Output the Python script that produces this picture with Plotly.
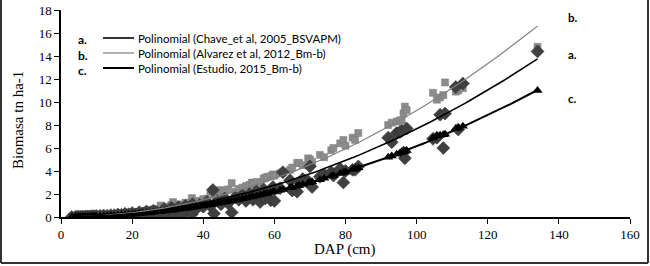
import numpy as np
import plotly.graph_objects as go

# DAP (cm) of each tree
dap = [3.0, 4.0, 4.5, 5.0, 5.5, 6.0, 6.5, 7.0, 7.5, 8.0, 8.5, 9.0, 9.5, 10, 11, 12, 13, 14, 15, 16, 17,
       18, 19, 20, 21, 22, 23, 24, 25, 26, 27, 28, 29, 30, 31, 31.5, 32, 33, 34, 35, 36,
       36.8, 37, 38, 39, 40, 41, 42, 42.7, 43, 44, 45, 46, 47, 48, 49, 50, 51, 52, 53, 53.7,
       54, 55, 56, 57, 57.4, 58, 59, 59.6, 60, 61.6, 62.4, 64.4, 65, 66.4, 67, 68, 69.5, 70, 70.6, 72.8,
       74, 76, 76.6, 78.5, 79.4, 80, 82, 82.7, 83.6, 92, 93, 94.4, 95.3, 95.8, 96.3, 96.7, 97.2,
       104.6, 105.7, 106.6, 107.5, 108, 111, 111.7, 113, 134]

# a. Chave et al 2005 (diamonds)
bio_chave = [0.01, 0.01, 0.02, 0.02, 0.03, 0.03, 0.03, 0.04, 0.05, 0.05, 0.06, 0.07, 0.07, 0.08, 0.10, 0.12, 0.11, 0.16, 0.15, 0.22, 0.19,
             0.28, 0.24, 0.34, 0.22, 0.41, 0.30, 0.48, 0.33, 0.55, 0.40, 0.15, 0.70, 0.10, 0.80, 0.62, 0.20, 0.85, 0.15, 0.95, 0.60,
             0.25, 1.10, 0.70, 1.05, 0.90, 1.30, 0.95, 2.35, 0.30, 1.40, 1.10, 1.60, 1.20, 0.40, 1.70, 1.50, 1.90, 1.40, 2.00, 1.75,
             1.50, 2.25, 1.30, 2.40, 1.60, 2.10, 1.45, 2.60, 1.40, 2.50, 3.90, 3.20, 2.30, 2.20, 3.00, 3.30, 3.10, 4.40, 2.60, 3.50,
             3.70, 3.90, 3.60, 4.20, 3.00, 4.00, 4.10, 4.10, 4.40, 6.90, 6.50, 7.30, 7.40, 7.50, 5.60, 5.10, 7.70,
             6.80, 6.90, 8.90, 6.00, 9.00, 11.30, 7.60, 11.60, 14.40]

# b. Alvarez et al 2012 (squares)
bio_alvarez = [0.02, 0.03, 0.04, 0.05, 0.06, 0.06, 0.07, 0.08, 0.09, 0.10, 0.10, 0.11, 0.12, 0.13, 0.14, 0.15, 0.17, 0.19, 0.22, 0.25, 0.28,
               0.31, 0.35, 0.38, 0.42, 0.45, 0.50, 0.55, 0.62, 0.66, 0.70, 1.00, 0.78, 0.90, 1.05, 1.30, 0.95, 1.10, 1.05, 1.25, 1.20,
               1.65, 1.30, 1.40, 1.35, 1.55, 1.60, 1.90, 2.35, 2.30, 1.95, 2.35, 2.10, 2.40, 2.95, 2.20, 2.45, 2.55, 2.70, 2.80, 3.00,
               2.85, 3.05, 3.00, 3.35, 3.40, 3.50, 3.55, 3.70, 3.60, 3.80, 3.90, 4.10, 4.30, 4.70, 4.70, 4.50, 5.10, 5.00, 4.80, 5.40,
               5.20, 5.80, 6.00, 6.40, 6.70, 6.20, 6.90, 6.70, 7.30, 8.00, 8.20, 8.30, 8.40, 8.40, 9.00, 9.60, 9.30,
               10.80, 10.20, 10.40, 10.60, 11.70, 10.90, 11.00, 11.20, 14.80]

# c. Estudio 2015 (triangles)
bio_estudio = [0.01, 0.01, 0.01, 0.02, 0.02, 0.02, 0.03, 0.03, 0.03, 0.04, 0.04, 0.05, 0.06, 0.06, 0.07, 0.09, 0.10, 0.12, 0.14, 0.16, 0.18,
               0.20, 0.22, 0.25, 0.27, 0.30, 0.32, 0.35, 0.38, 0.41, 0.45, 0.48, 0.52, 0.55, 0.59, 0.61, 0.63, 0.67, 0.71, 0.75, 0.79,
               0.83, 0.84, 0.89, 0.93, 0.98, 1.03, 1.08, 1.12, 1.13, 1.19, 1.24, 1.30, 1.35, 1.41, 1.47, 1.53, 1.59, 1.66, 1.72, 1.77,
               1.79, 1.85, 1.92, 1.99, 2.02, 2.06, 2.13, 2.18, 2.21, 2.33, 2.39, 2.54, 2.59, 2.70, 2.75, 2.83, 2.96, 3.00, 3.06, 3.25,
               3.36, 3.54, 3.60, 3.78, 3.86, 3.92, 4.12, 4.19, 4.28, 5.19, 5.30, 5.46, 5.57, 5.63, 5.68, 5.73, 5.79,
               6.87, 7.05, 7.10, 7.15, 7.20, 7.70, 7.75, 7.90, 11.00]

# polynomial trendline coefficients (x^2, x, 1)
trend_chave = [0.000766, 0.0, 0.0]
trend_alvarez = [0.000925, 0.0, 0.0]
trend_estudio = [0.000615, 0.0, 0.0]

legend_names = ["Polinomial (Chave_et al, 2005_BSVAPM)",
                "Polinomial (Alvarez et al, 2012_Bm-b)",
                "Polinomial (Estudio, 2015_Bm-b)"]
legend_tags = ["a.", "b.", "c."]
x_title = "DAP (cm)"
y_title = "Biomasa tn ha-1"

x = np.array(dap, dtype=float)
xs = np.linspace(x.min(), x.max(), 200)

fig = go.Figure()
fig.add_trace(go.Scatter(x=dap, y=bio_alvarez, mode="markers",
                         marker=dict(symbol="square", size=7, color="#8c8c8c",
                                     line=dict(width=0.5, color="#7a7a7a")), showlegend=False))
fig.add_trace(go.Scatter(x=dap, y=bio_chave, mode="markers",
                         marker=dict(symbol="diamond", size=10, color="#404040",
                                     line=dict(width=0.5, color="#2a2a2a")), showlegend=False))
fig.add_trace(go.Scatter(x=dap, y=bio_estudio, mode="markers",
                         marker=dict(symbol="triangle-up", size=9, color="#000000"), showlegend=False))

fig.add_trace(go.Scatter(x=xs, y=np.polyval(trend_chave, xs), mode="lines",
                         line=dict(color="#000000", width=1.6), showlegend=False))
fig.add_trace(go.Scatter(x=xs, y=np.polyval(trend_alvarez, xs), mode="lines",
                         line=dict(color="#808080", width=1.2), showlegend=False))
fig.add_trace(go.Scatter(x=xs, y=np.polyval(trend_estudio, xs), mode="lines",
                         line=dict(color="#000000", width=2), showlegend=False))

# plot area in pixels: x 61..630, y 10..217
L, R, T, B = 61, 630, 10, 217
W, H = R - L, B - T
def px(p):
    return (p - L) / W
def py(p):
    return (B - p) / H

frame = dict(color="#333333", width=2)
shapes = [
    dict(type="line", xref="paper", yref="paper", x0=px(1), x1=px(1), y0=py(0), y1=py(263), line=frame),
    dict(type="line", xref="paper", yref="paper", x0=px(648), x1=px(648), y0=py(0), y1=py(263), line=frame),
    dict(type="line", xref="paper", yref="paper", x0=px(1), x1=px(648), y0=py(263), y1=py(263), line=frame),
]
leg_rows = [38, 53, 68]
leg_colors = ["#000000", "#808080", "#000000"]
leg_widths = [1.6, 1.2, 2]
for i in range(3):
    shapes.append(dict(type="line", xref="paper", yref="paper",
                       x0=px(103), x1=px(134), y0=py(leg_rows[i]), y1=py(leg_rows[i]),
                       line=dict(color=leg_colors[i], width=leg_widths[i])))

serif = "Times New Roman, Liberation Serif, serif"
annotations = [
    dict(xref="paper", yref="paper", x=px(136), y=py(53),
         text="<br>".join(legend_names), showarrow=False, xanchor="left", yanchor="middle",
         align="left", font=dict(family="Lato", size=11.5, color="#000000")),
    dict(xref="paper", yref="paper", x=px(76), y=py(55),
         text="<br>".join("<b>" + t + "</b>" for t in legend_tags), showarrow=False,
         xanchor="left", yanchor="middle", align="left",
         font=dict(family="Lato", size=12, color="#000000")),
    dict(xref="paper", yref="paper", x=px(345), y=py(249), text=x_title, showarrow=False,
         xanchor="center", yanchor="middle", font=dict(family=serif, size=15, color="#000000")),
    dict(xref="paper", yref="paper", x=px(18), y=py(120), text=y_title, showarrow=False,
         textangle=-90, xanchor="center", yanchor="middle",
         font=dict(family=serif, size=15, color="#000000")),
]
right_tags = [("b.", 17), ("a.", 55), ("c.", 98)]
for t, yy in right_tags:
    annotations.append(dict(xref="paper", yref="paper", x=px(566), y=py(yy),
                            text="<b>" + t + "</b>", showarrow=False, xanchor="left", yanchor="middle",
                            font=dict(family="Lato", size=11.5, color="#000000")))

fig.update_layout(
    width=650, height=266,
    margin=dict(l=L, r=650 - R, t=T, b=266 - B),
    paper_bgcolor="white", plot_bgcolor="white",
    shapes=shapes, annotations=annotations,
    xaxis=dict(range=[0, 160], dtick=20, showgrid=False, zeroline=False, automargin=False,
               showline=True, linecolor="#000000", linewidth=1.5,
               ticks="outside", ticklen=5, tickcolor="#000000",
               tickfont=dict(family=serif, size=13, color="#000000")),
    yaxis=dict(range=[0, 18], dtick=2, showgrid=False, zeroline=False, automargin=False,
               showline=True, linecolor="#000000", linewidth=1.5,
               ticks="outside", ticklen=5, tickcolor="#000000",
               tickfont=dict(family=serif, size=13, color="#000000")),
)

fig.write_html("out.html", config={"displayModeBar": False},
               post_script="document.body.style.margin='0';")
